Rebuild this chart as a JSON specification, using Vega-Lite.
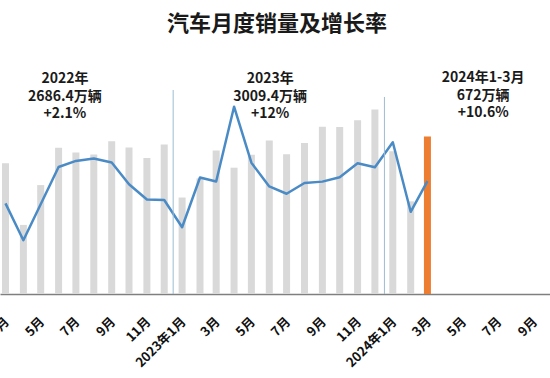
{
  "$schema": "https://vega.github.io/schema/vega-lite/v6.json",
  "width": 550,
  "height": 254,
  "autosize": "none",
  "padding": {"top": 40, "left": 0, "right": 0, "bottom": 84},
  "background": "white",
  "config": {"view": {"stroke": null}, "font": "Noto Sans CJK SC"},
  "title": {"text": "汽车月度销量及增长率", "fontSize": 22, "fontWeight": "bold", "font": "Noto Sans CJK SC", "color": "#1a1a1a", "anchor": "middle", "offset": 4, "dx": 2},
  "layer": [
    {
      "data": {"values": [
        {"month": "2022-03-01", "sales": 223.4, "growth": -11.7},
        {"month": "2022-04-01", "sales": 118.1, "growth": -47.6},
        {"month": "2022-05-01", "sales": 186.2, "growth": -12.6},
        {"month": "2022-06-01", "sales": 250.2, "growth": 23.8},
        {"month": "2022-07-01", "sales": 242.0, "growth": 29.7},
        {"month": "2022-08-01", "sales": 238.3, "growth": 32.1},
        {"month": "2022-09-01", "sales": 261.0, "growth": 28.1},
        {"month": "2022-10-01", "sales": 250.5, "growth": 6.9},
        {"month": "2022-11-01", "sales": 232.6, "growth": -7.9},
        {"month": "2022-12-01", "sales": 255.6, "growth": -8.4},
        {"month": "2023-01-01", "sales": 164.9, "growth": -35.0},
        {"month": "2023-02-01", "sales": 197.6, "growth": 13.5},
        {"month": "2023-03-01", "sales": 245.1, "growth": 9.7},
        {"month": "2023-04-01", "sales": 215.9, "growth": 82.5},
        {"month": "2023-05-01", "sales": 238.2, "growth": 27.9},
        {"month": "2023-06-01", "sales": 262.2, "growth": 4.8},
        {"month": "2023-07-01", "sales": 238.7, "growth": -2.3},
        {"month": "2023-08-01", "sales": 258.2, "growth": 8.2},
        {"month": "2023-09-01", "sales": 285.8, "growth": 9.5},
        {"month": "2023-10-01", "sales": 285.3, "growth": 13.8},
        {"month": "2023-11-01", "sales": 297.0, "growth": 27.4},
        {"month": "2023-12-01", "sales": 315.6, "growth": 23.5},
        {"month": "2024-01-01", "sales": 243.9, "growth": 47.9},
        {"month": "2024-02-01", "sales": 158.4, "growth": -19.9},
        {"month": "2024-03-01", "sales": 269.4, "growth": 9.9}
      ]},
      "layer": [
        {
          "mark": {"type": "bar", "size": 7},
          "encoding": {
            "x": {
              "field": "month", "type": "temporal",
              "scale": {"type": "utc", "domain": [
                {"year": 2022, "month": 2, "date": 28, "hours": 4, "utc": true},
                {"year": 2024, "month": 9, "date": 20, "hours": 16, "utc": true}
              ]},
              "axis": {
                "title": null, "grid": false, "ticks": false,
                "domainColor": "#7f7f7f", "domainWidth": 1.5,
                "labelAngle": -45, "labelFont": "Noto Sans CJK SC", "labelFontSize": 13,
                "labelFontWeight": "bold", "labelColor": "#111111", "labelPadding": 21,
                "labelOffset": -3,
                "labelOverlap": false, "labelFlush": false, "labelBound": false,
                "tickCount": {"interval": "month", "step": 2},
                "labelExpr": "utcmonth(datum.value) == 0 ? utcyear(datum.value) + '年1月' : (utcmonth(datum.value) + 1) + '月'"
              }
            },
            "y": {"field": "sales", "type": "quantitative", "scale": {"domain": [0, 434.2], "nice": false}, "axis": null},
            "color": {"condition": {"test": "utcyear(datum.month) == 2024 && utcmonth(datum.month) == 2", "value": "#ED7D31"}, "value": "#D9D9D9"}
          }
        },
        {
          "mark": {"type": "line", "color": "#4A8BC6", "strokeWidth": 2.5, "strokeJoin": "round"},
          "encoding": {
            "x": {"field": "month", "type": "temporal"},
            "y": {"field": "growth", "type": "quantitative", "scale": {"domain": [-100, 147.5], "nice": false, "zero": false}, "axis": null}
          }
        }
      ],
      "resolve": {"scale": {"y": "independent"}}
    },
    {
      "data": {"values": [{}]},
      "mark": {"type": "rule", "color": "#9DBBD2", "strokeWidth": 1},
      "encoding": {
        "x": {"datum": {"year": 2022, "month": 12, "date": 16, "hours": 12, "utc": true}, "type": "temporal"},
        "y": {"datum": 348.7, "type": "quantitative", "scale": {"domain": [0, 434.2], "nice": false}, "axis": null},
        "y2": {"datum": 0}
      }
    },
    {
      "data": {"values": [{}]},
      "mark": {"type": "rule", "color": "#9DBBD2", "strokeWidth": 1},
      "encoding": {
        "x": {"datum": {"year": 2023, "month": 12, "date": 17, "hours": 12, "utc": true}, "type": "temporal"},
        "y": {"datum": 336.8, "type": "quantitative", "scale": {"domain": [0, 434.2], "nice": false}, "axis": null},
        "y2": {"datum": 0}
      }
    },
    {
      "data": {"values": [{}]},
      "mark": {"type": "text", "font": "Noto Sans CJK SC", "fontSize": 14, "fontWeight": "bold", "color": "#1a1a1a", "align": "center", "baseline": "middle", "lineHeight": 17.5},
      "encoding": {
        "x": {"datum": {"year": 2022, "month": 6, "date": 12, "utc": true}, "type": "temporal"},
        "y": {"datum": 367.5, "type": "quantitative", "scale": {"domain": [0, 434.2], "nice": false}, "axis": null},
        "text": {"value": ["2022年", "2686.4万辆", "+2.1%"]}
      }
    },
    {
      "data": {"values": [{}]},
      "mark": {"type": "text", "font": "Noto Sans CJK SC", "fontSize": 14, "fontWeight": "bold", "color": "#1a1a1a", "align": "center", "baseline": "middle", "lineHeight": 17.5},
      "encoding": {
        "x": {"datum": {"year": 2023, "month": 6, "date": 2, "hours": 12, "utc": true}, "type": "temporal"},
        "y": {"datum": 367.5, "type": "quantitative", "scale": {"domain": [0, 434.2], "nice": false}, "axis": null},
        "text": {"value": ["2023年", "3009.4万辆", "+12%"]}
      }
    },
    {
      "data": {"values": [{}]},
      "mark": {"type": "text", "font": "Noto Sans CJK SC", "fontSize": 14, "fontWeight": "bold", "color": "#1a1a1a", "align": "center", "baseline": "middle", "lineHeight": 17.5},
      "encoding": {
        "x": {"datum": {"year": 2024, "month": 6, "date": 5, "hours": 14, "utc": true}, "type": "temporal"},
        "y": {"datum": 368.5, "type": "quantitative", "scale": {"domain": [0, 434.2], "nice": false}, "axis": null},
        "text": {"value": ["2024年1-3月", "672万辆", "+10.6%"]}
      }
    }
  ],
  "resolve": {"scale": {"y": "independent"}}
}
